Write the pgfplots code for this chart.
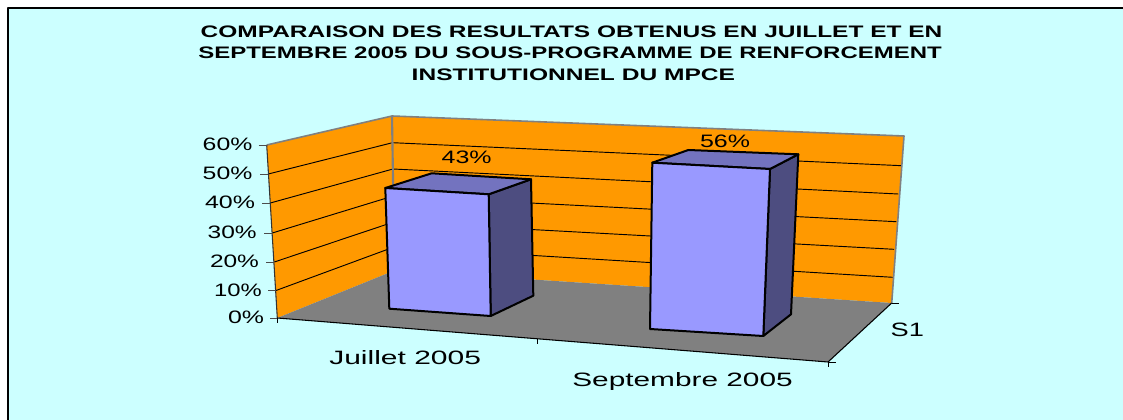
\documentclass[border=0pt]{standalone}
\usepackage{pgfplots}
\pgfplotsset{compat=1.18}
\usepackage{fontspec}
\usepackage{graphicx}
\setmainfont{Liberation Sans}
\definecolor{bgc}{HTML}{CCFFFF}
\definecolor{wallc}{HTML}{FF9900}
\definecolor{floorc}{HTML}{808080}
\definecolor{frontc}{HTML}{9999FF}
\definecolor{topc}{HTML}{7373BF}
\definecolor{sidec}{HTML}{4D4D80}
\newcommand{\lbl}[5][\fontsize{13.5}{13.5}\selectfont]{\node[anchor=base west,inner sep=0pt,outer sep=0pt,text=black] at (axis cs:#2,#3) {#1\resizebox{\dimexpr #4pt*3/4\relax}{\height}{#5}};}
\begin{document}
\begin{tikzpicture}
\begin{axis}[
  scale only axis, width=842.25pt, height=315pt,
  xmin=0, xmax=1123, ymin=0, ymax=420, y dir=reverse,
  axis lines=none, clip=true, no markers, line join=round,
  every axis plot/.append style={solid}]
% page
\addplot[fill=white,draw=none] coordinates {(0,0)(1123,0)(1123,420)(0,420)} -- cycle;
\addplot[fill=bgc,draw=none] coordinates {(8,9)(1123,9)(1123,420)(8,420)} -- cycle;
\addplot[draw=black,line width=1.5pt] coordinates {(7.5,420)(7.5,8.5)(1123,8.5)};
% walls and floor
\addplot[fill=wallc,draw=none] coordinates {(266.7,145)(392,116)(394.5,270.5)(277.3,318)} -- cycle;
\addplot[fill=wallc,draw=none] coordinates {(392,116)(904,136)(891.7,303)(394.5,270.5)} -- cycle;
\addplot[fill=floorc,draw=none] coordinates {(277.3,318)(394.5,270.5)(891.7,303)(828,362)} -- cycle;
% gridlines
\addplot[black,line width=.7pt] coordinates {(268.3,174)(392.5,142.7)(901.7,165.7)};
\addplot[black,line width=.7pt] coordinates {(270.3,203)(393,169)(898.3,194)};
\addplot[black,line width=.7pt] coordinates {(272.3,233)(393.3,196)(896.3,221.7)};
\addplot[black,line width=.7pt] coordinates {(274.3,262)(393.7,222)(894,249.3)};
\addplot[black,line width=.7pt] coordinates {(276,290.5)(394,247)(892.7,277.3)};
% wall edges
\addplot[floorc,line width=1.2pt] coordinates {(266.7,145)(392,116)(904,136)(891.7,303)};
\addplot[floorc,line width=1.6pt] coordinates {(392,116)(394.5,270.5)};
\addplot[black!80,line width=.8pt] coordinates {(266.7,145)(277.3,318)};
% floor edges and ticks
\addplot[black,line width=.8pt] coordinates {(277.3,318)(828,362)(891.7,303)};
\addplot[black!70,line width=.7pt] coordinates {(258.5,145)(266.7,145)};
\addplot[black!70,line width=.7pt] coordinates {(260,174)(268.3,174)};
\addplot[black!70,line width=.7pt] coordinates {(262,203)(270.3,203)};
\addplot[black!70,line width=.7pt] coordinates {(264,233)(272.3,233)};
\addplot[black!70,line width=.7pt] coordinates {(266,262)(274.3,262)};
\addplot[black!70,line width=.7pt] coordinates {(268,290.5)(276,290.5)};
\addplot[black!70,line width=.7pt] coordinates {(270,318)(277.3,318)};
\addplot[black,line width=.7pt] coordinates {(277.3,318)(277.3,323)};
\addplot[black,line width=.7pt] coordinates {(537.5,339)(537.5,344)};
\addplot[black,line width=.7pt] coordinates {(828,362)(828,367)};
\addplot[black,line width=.7pt] coordinates {(828,362)(836,362)};
\addplot[black,line width=.7pt] coordinates {(891.7,303)(899,303)};
% bar Juillet 2005 (43%)
\addplot[fill=sidec,draw=black,line width=1.5pt] coordinates {(488.7,194.3)(531,179.3)(533.3,295.7)(490.7,316)} -- cycle;
\addplot[fill=topc,draw=black,line width=1.5pt] coordinates {(385.3,188)(431.7,173.3)(531,179.3)(488.7,194.3)} -- cycle;
\addplot[fill=frontc,draw=black,line width=1.5pt] coordinates {(385.3,188)(488.7,194.3)(490.7,316)(389.3,308.7)} -- cycle;
% bar Septembre 2005 (56%)
\addplot[fill=sidec,draw=black,line width=1.5pt] coordinates {(770,169)(798.3,154.3)(791,314.3)(763.3,336)} -- cycle;
\addplot[fill=topc,draw=black,line width=1.5pt] coordinates {(652.3,162.7)(688.3,150)(798.3,154.3)(770,169)} -- cycle;
\addplot[fill=frontc,draw=black,line width=1.5pt] coordinates {(652.3,162.7)(770,169)(763.3,336)(650,329)} -- cycle;
% title
\lbl[\fontsize{12.5}{12.5}\selectfont\bfseries]{200.7}{37.3}{741.6}{COMPARAISON DES RESULTATS OBTENUS EN JUILLET ET EN}
\lbl[\fontsize{12.5}{12.5}\selectfont\bfseries]{198.3}{59}{743.4}{SEPTEMBRE 2005 DU SOUS-PROGRAMME DE RENFORCEMENT}
\lbl[\fontsize{12.5}{12.5}\selectfont\bfseries]{411.7}{81}{323.3}{INSTITUTIONNEL DU MPCE}
% value axis labels
\lbl{202.7}{150.8}{49.7}{60\%}
\lbl{202.7}{179.8}{49.7}{50\%}
\lbl{205}{208.8}{50}{40\%}
\lbl{207.7}{238.8}{49}{30\%}
\lbl{210}{267.8}{49}{20\%}
\lbl{214}{296}{47.7}{10\%}
\lbl{228}{323.8}{36}{0\%}
% category labels
\lbl[\fontsize{14.5}{14.5}\selectfont]{329.3}{364.3}{151.7}{Juillet 2005}
\lbl[\fontsize{14.5}{14.5}\selectfont]{572.3}{386}{220.4}{Septembre 2005}
\lbl[\fontsize{14.5}{14.5}\selectfont]{890.7}{336.7}{33.3}{S1}
% data labels
\lbl{441.7}{163.3}{50}{43\%}
\lbl{700}{147.3}{50}{56\%}
\end{axis}
\end{tikzpicture}
\end{document}
